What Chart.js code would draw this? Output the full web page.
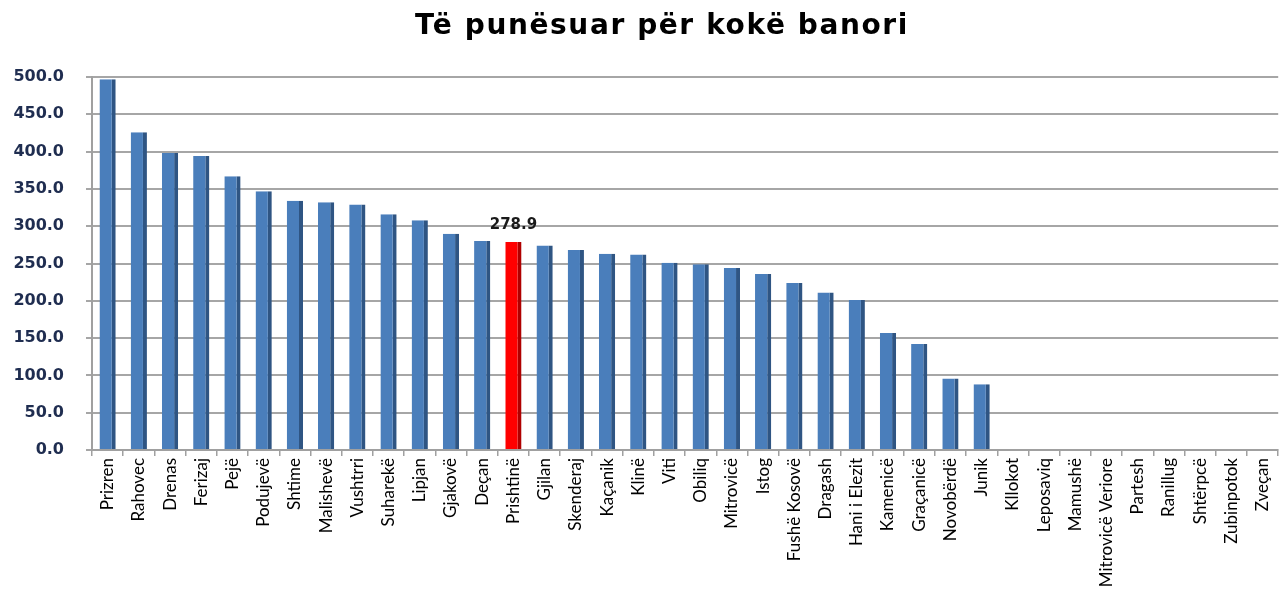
<!DOCTYPE html>
<html>
<head>
<meta charset="utf-8">
<script src="https://cdn.jsdelivr.net/npm/chart.js@4.4.1/dist/chart.umd.min.js"></script>
<style>
html,body{margin:0;padding:0;background:#fff;}
#wrap{width:1285px;height:593px;position:relative;}
</style>
</head>
<body>
<div id="wrap"><canvas id="c" width="1285" height="593"></canvas></div>
<script>
const titleText = "Të punësuar për kokë banori";
const municipalities = ["Prizren","Rahovec","Drenas","Ferizaj","Pejë","Podujevë","Shtime","Malishevë","Vushtrri","Suharekë","Lipjan","Gjakovë","Deçan","Prishtinë","Gjilan","Skenderaj","Kaçanik","Klinë","Viti","Obiliq","Mitrovicë","Istog","Fushë Kosovë","Dragash","Hani i Elezit","Kamenicë","Graçanicë","Novobërdë","Junik","Kllokot","Leposaviq","Mamushë","Mitrovicë Veriore","Partesh","Ranillug","Shtërpcë","Zubinpotok","Zveçan"];
const employedPerCapita = [497,426,398,394,367,347,334,332,329,316,308,290,280,278.9,274,268,263,262,251,249,244,236,224,211,201,157,142,96,88,0,0,0,0,0,0,0,0,0];
const highlighted = "Prishtinë";
const yTicks = [0,50,100,150,200,250,300,350,400,450,500];

const values = employedPerCapita.slice(0, municipalities.length);
const fillColors = municipalities.map(m => m === highlighted ? '#FF0000' : '#4A7EBB');
const sideColors = municipalities.map(m => m === highlighted ? '#B00000' : '#2F5583');

const labelPlugin = {
  id: 'hlLabel',
  afterDatasetsDraw(chart) {
    const meta = chart.getDatasetMeta(0);
    const idx = municipalities.indexOf(highlighted);
    const el = meta.data[idx];
    const ctx = chart.ctx;
    ctx.save();
    ctx.font = 'bold 15px "DejaVu Sans"';
    ctx.fillStyle = '#1a1a1a';
    ctx.textAlign = 'center';
    ctx.textBaseline = 'middle';
    ctx.fillText(values[idx].toFixed(1), el.x, el.y - 17);
    ctx.restore();
  }
};

const titlePlugin = {
  id: 'wideTitle',
  afterDraw(chart) {
    const ctx = chart.ctx;
    ctx.save();
    ctx.font = 'bold 28px "DejaVu Sans"';
    if ('letterSpacing' in ctx) ctx.letterSpacing = '1.6px';
    ctx.fillStyle = '#000';
    ctx.textAlign = 'center';
    ctx.textBaseline = 'alphabetic';
    ctx.fillText(titleText, 662, 34);
    ctx.restore();
  }
};

new Chart(document.getElementById('c'), {
  type: 'bar',
  data: {
    labels: municipalities,
    datasets: [{
      data: values,
      backgroundColor: fillColors,
      borderColor: sideColors,
      borderWidth: {top: 0, right: 4, bottom: 0, left: 0},
      borderSkipped: false,
      barPercentage: 0.52,
      categoryPercentage: 1.0
    }]
  },
  options: {
    responsive: false,
    animation: false,
    events: [],
    layout: {padding: {left: 0, right: 1, top: 77, bottom: 0}},
    plugins: {
      legend: {display: false},
      tooltip: {enabled: false},
      title: {display: false}
    },
    scales: {
      x: {
        offset: true,
        grid: {display: true, drawOnChartArea: false, drawTicks: true, tickLength: 6, color: '#A0A0A0', lineWidth: 1.5, offset: true},
        border: {display: true, color: '#A0A0A0', width: 2},
        ticks: {
          autoSkip: false, minRotation: 90, maxRotation: 90,
          color: '#000', padding: 2,
          font: {family: 'Lato', size: 17}
        },
        afterFit(s) { s.height = 143; }
      },
      y: {
        min: 0, max: 500,
        afterBuildTicks(s) { s.ticks = yTicks.map(v => ({value: v})); },
        grid: {color: '#A6A6A6', lineWidth: 2, tickLength: 6, drawTicks: true},
        border: {display: true, color: '#A0A0A0', width: 2},
        ticks: {
          color: '#1F2D50', padding: 22,
          font: {family: '"DejaVu Sans"', size: 16, weight: 'bold'},
          callback: v => Number(v).toFixed(1)
        },
        afterFit(s) { s.width = 92; }
      }
    }
  },
  plugins: [labelPlugin, titlePlugin]
});
</script>
</body>
</html>
